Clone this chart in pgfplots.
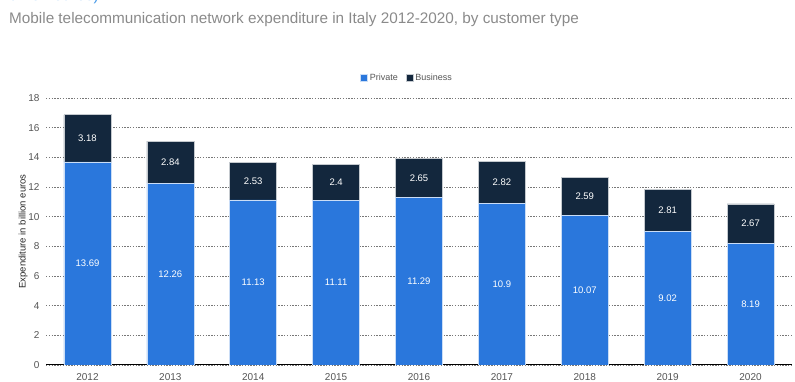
\documentclass[border=0pt]{standalone}
\usepackage{pgfplots}
\pgfplotsset{compat=1.18}
\usepackage{fontspec}
\setmainfont{Liberation Sans}

\definecolor{privblue}{HTML}{2A77DC}
\definecolor{busnavy}{HTML}{13273D}
\definecolor{titlegray}{HTML}{8A8A8A}
\definecolor{tickgray}{HTML}{555555}
\definecolor{linkblue}{HTML}{4A9BE8}

\begin{document}
\begin{tikzpicture}
\useasboundingbox (0bp,0bp) rectangle (795bp,382bp);
% heading lines
\node[anchor=base west, inner sep=0, text=linkblue, font=\fontsize{16bp}{19bp}\selectfont] at (8bp,381bp) {billion euros)};
\node[anchor=base west, inner sep=0, text=titlegray, font=\fontsize{15.3bp}{18bp}\selectfont] at (9bp,358.5bp) {Mobile telecommunication network expenditure in Italy 2012-2020, by customer type};

\begin{axis}[
  at={(46bp,17bp)}, anchor=south west,
  scale only axis, width=746bp, height=267bp,
  xmin=-0.5, xmax=8.5, ymin=0, ymax=18,
  ybar stacked, bar width=47bp,
  xtick={0,...,8},
  xticklabels={2012,2013,2014,2015,2016,2017,2018,2019,2020},
  ytick={0,2,...,18},
  major tick length=0pt,
  axis line style={draw=none},
  ymajorgrids,
  grid style={tickgray!80, line width=0.5bp, dash pattern=on 1.4bp off 1.4bp},
  /pgf/number format/assume math mode=true,
  tick label style={text=tickgray, font=\fontsize{10bp}{12bp}\selectfont},
  yticklabel style={xshift=-3bp},
  xticklabel style={yshift=-5bp},
  ylabel={Expenditure in billion euros},
  ylabel style={text=black!85, font=\fontsize{9.5bp}{11bp}\selectfont, yshift=-6bp},
  legend style={at={(0.484,1.075)}, anchor=center, draw=none, fill=none,
    font=\fontsize{9bp}{11bp}\selectfont, text=tickgray,
    /tikz/every even column/.append style={column sep=6bp}},
  legend columns=2,
  legend image code/.code={\fill[#1] (0bp,-3.5bp) rectangle (7bp,3.5bp);},
  visualization depends on=rawy \as \rawy,
  nodes near coords={\pgfmathprintnumber{\rawy}},
  every node near coord/.append style={text=white, anchor=center,
    font=\fontsize{9.5bp}{11bp}\selectfont},
]
\addplot[fill=privblue, draw=white!75!privblue, line width=0.6bp] coordinates {
  (0,13.69) (1,12.26) (2,11.13) (3,11.11) (4,11.29) (5,10.9) (6,10.07) (7,9.02) (8,8.19)};
\addlegendentry{Private}
\addplot[fill=busnavy, draw=white!75!busnavy, line width=0.6bp] coordinates {
  (0,3.18) (1,2.84) (2,2.53) (3,2.4) (4,2.65) (5,2.82) (6,2.59) (7,2.81) (8,2.67)};
\addlegendentry{Business}
\draw[black, line width=2.5bp] (rel axis cs:0,0) -- (rel axis cs:1,0);
\end{axis}
\end{tikzpicture}
\end{document}
